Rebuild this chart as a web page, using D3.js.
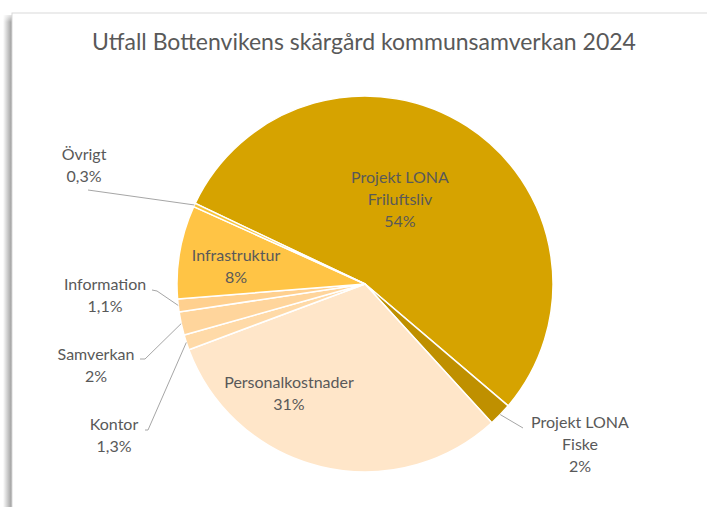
<!doctype html>
<html>
  <head>
    <meta charset="utf-8">
    <script src="https://cdn.jsdelivr.net/npm/d3@7/dist/d3.min.js"></script>
    <style>
      body, html {
        margin: 0;
        background: #fff;
      }
      svg {
        display: block;
        font-family: Lato, "Open Sans", sans-serif;
      }
      text {
        fill: #595959;
      }
      path.slice {
        stroke: #fff;
        stroke-width: 1.5px;
      }
      polyline.leader {
        fill: none;
        stroke: #a6a6a6;
        stroke-width: 1px;
      }
    </style>
  </head>
  <body>
    <svg width="707" height="507"></svg>
    <script>
      var title = "Utfall Bottenvikens skärgård kommunsamverkan 2024";

      // slices in drawing order, clockwise
      var labels = ["Projekt LONA Friluftsliv", "Projekt LONA Fiske", "Personalkostnader",
                    "Kontor", "Samverkan", "Information", "Infrastruktur", "Övrigt"];
      var values = [54, 2, 31, 1.3, 2, 1.1, 8, 0.3];
      var pctText = ["54%", "2%", "31%", "1,3%", "2%", "1,1%", "8%", "0,3%"];
      var colors = ["#d6a300", "#bf9000", "#ffe6c9", "#ffdaa8", "#ffd59c", "#ffd08f", "#ffc445", "#f7c43a"];

      var width = 707, height = 507;
      var cx = 365, cy = 284, radius = 188;
      var start = 295.4 * Math.PI / 180;

      var svg = d3.select("svg");

      // chart frame with soft shadow on the left
      var defs = svg.append("defs");
      var grad = defs.append("linearGradient").attr("id", "shade")
        .attr("x1", "0").attr("x2", "1").attr("y1", "0").attr("y2", "0");
      grad.append("stop").attr("offset", "0").attr("stop-color", "#fff");
      grad.append("stop").attr("offset", "1").attr("stop-color", "#9a9a9a");
      var gradV = defs.append("linearGradient").attr("id", "shadeTop")
        .attr("x1", "0").attr("x2", "0").attr("y1", "0").attr("y2", "1");
      gradV.append("stop").attr("offset", "0").attr("stop-color", "#fff").attr("stop-opacity", 1);
      gradV.append("stop").attr("offset", "1").attr("stop-color", "#fff").attr("stop-opacity", 0);

      svg.append("rect").attr("x", 3).attr("y", 15).attr("width", 9).attr("height", height - 15)
        .attr("fill", "url(#shade)");
      svg.append("rect").attr("x", 2).attr("y", 12).attr("width", 10).attr("height", 10)
        .attr("fill", "url(#shadeTop)");
      svg.append("rect").attr("x", 12).attr("y", 13).attr("width", width).attr("height", height)
        .attr("fill", "#fff").attr("stroke", "#d9d9d9").attr("stroke-width", 1);

      svg.append("text")
        .attr("x", 364).attr("y", 50)
        .attr("text-anchor", "middle")
        .style("font-size", "23px")
        .text(title);

      var pie = d3.pie().sort(null).value(d => d)
        .startAngle(start).endAngle(start + 2 * Math.PI);
      var arcs = pie(values);
      var arc = d3.arc().innerRadius(0).outerRadius(radius);
      var color = d3.scaleOrdinal().domain(labels).range(colors);

      var g = svg.append("g").attr("transform", "translate(" + cx + "," + cy + ")");

      g.selectAll("path.slice")
        .data(arcs)
        .enter()
        .append("path")
          .attr("class", "slice")
          .attr("d", arc)
          .attr("fill", (d, i) => color(labels[i]));

      // label layout relative to the pie centre
      var inside = {
        0: {lines: ["Projekt LONA", "Friluftsliv"], x: 35, y: -101},
        2: {lines: ["Personalkostnader"], x: -76, y: 104},
        6: {lines: ["Infrastruktur"], x: -129, y: -23}
      };
      var outside = {
        1: {lines: ["Projekt LONA", "Fiske"], x: 215, y: 144, bend: [[158, 144]]},
        3: {lines: ["Kontor"], x: -251, y: 146, bend: [[-217, 146], [-220, 146]]},
        4: {lines: ["Samverkan"], x: -269, y: 76, bend: [[-220, 75], [-225, 75]]},
        5: {lines: ["Information"], x: -260, y: 6, bend: [[-208, 7], [-213, 6]]},
        7: {lines: ["Övrigt"], x: -281, y: -124, bend: [[-277, -94]]}
      };

      var lh = 22;

      function addLabel(i, spec) {
        var t = g.append("text")
          .attr("text-anchor", "middle")
          .style("font-size", "16px");
        spec.lines.concat([pctText[i]]).forEach(function (s, k) {
          t.append("tspan").attr("x", spec.x).attr("y", spec.y + k * lh).text(s);
        });
      }

      Object.keys(inside).forEach(function (k) { addLabel(+k, inside[k]); });

      Object.keys(outside).forEach(function (k) {
        var i = +k, spec = outside[k];
        addLabel(i, spec);
        var a = (arcs[i].startAngle + arcs[i].endAngle) / 2;
        var p = [Math.sin(a) * radius, -Math.cos(a) * radius];
        var pts = [p].concat(spec.bend);
        g.append("polyline")
          .attr("class", "leader")
          .attr("points", pts.map(q => q.join(",")).join(" "));
      });
    </script>
  </body>
</html>
